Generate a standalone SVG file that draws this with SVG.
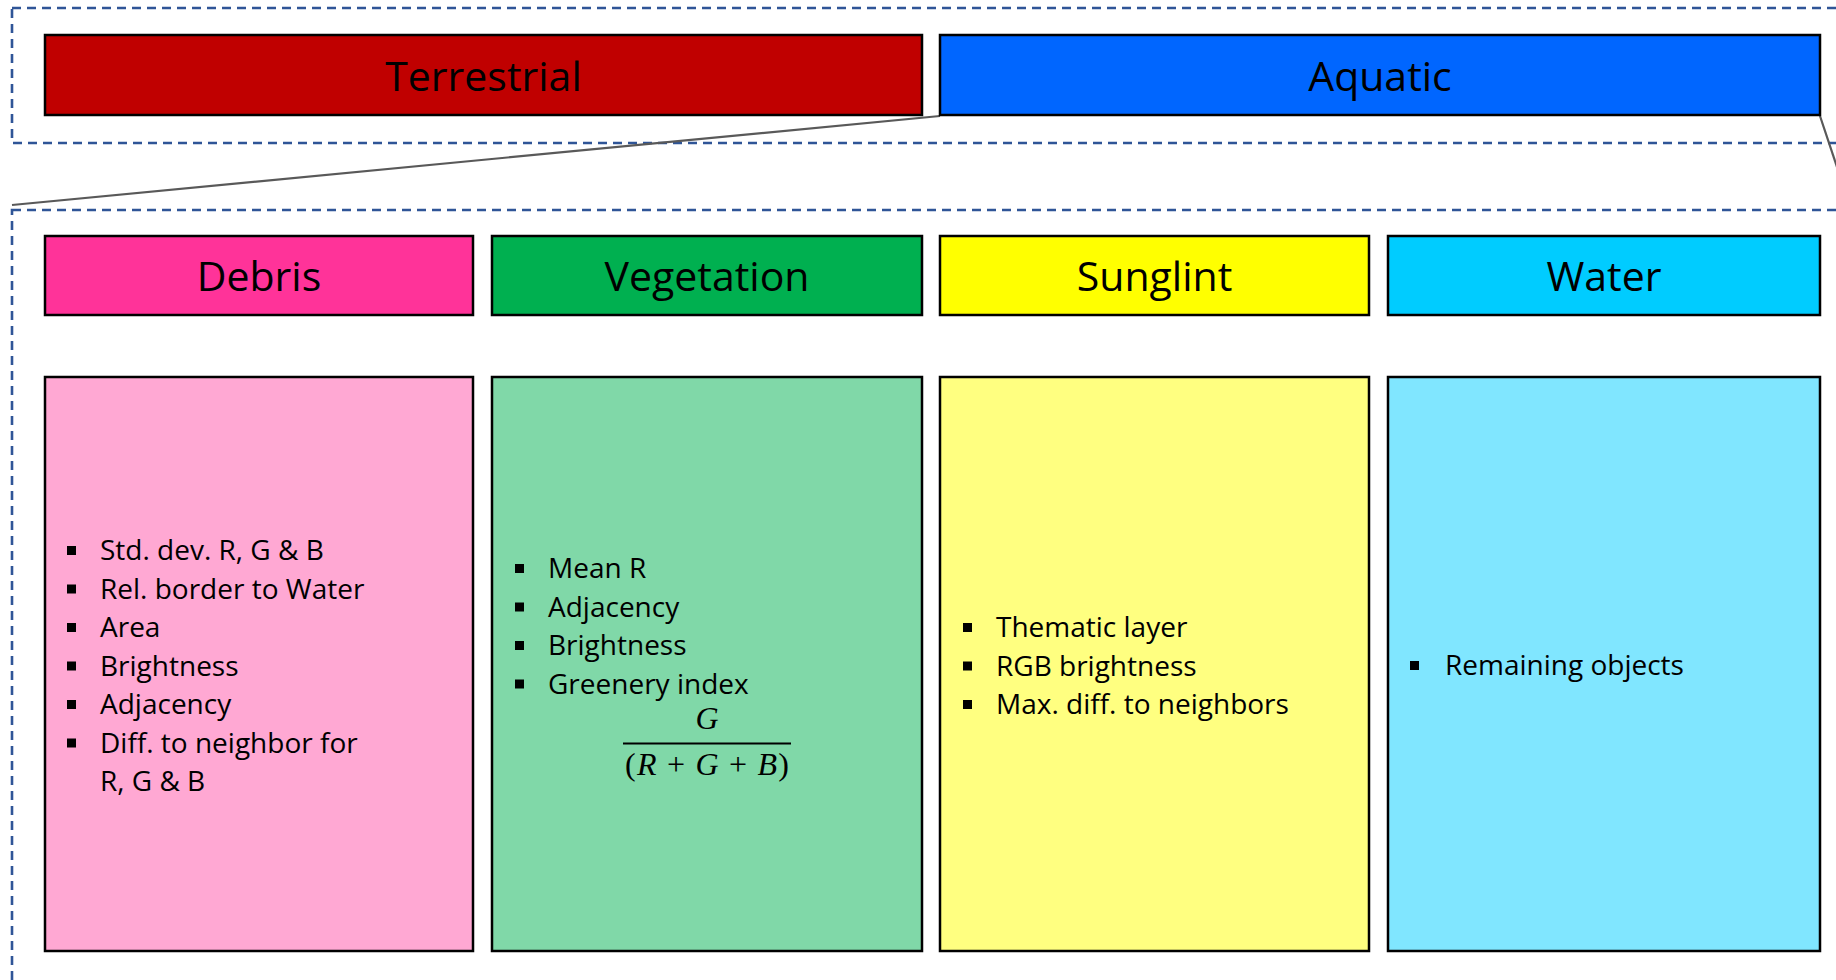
<svg xmlns="http://www.w3.org/2000/svg" width="1836" height="980" viewBox="0 0 1836 980">
<style>
.dash{fill:none;stroke:#2F5597;stroke-width:2.6;stroke-dasharray:9 6}
.box{stroke:#000;stroke-width:2.5}
.hdr{font-family:"Open Sans","Liberation Sans",sans-serif;font-size:41px;fill:#000;text-anchor:middle}
.item{font-family:"Open Sans","Liberation Sans",sans-serif;font-size:28px;fill:#000}
.bul{fill:#000}
.math{font-family:"Liberation Serif",serif;font-size:32px;fill:#000;font-style:italic}
.conn{stroke:#595959;stroke-width:2.2;fill:none}
</style>
<rect width="1836" height="980" fill="#fff"/>
<g id="frames">
<rect class="dash" x="12" y="8" width="1850" height="135"/>
<rect class="dash" x="12" y="210" width="1850" height="800"/>
</g>
<g id="connectors">
<line class="conn" x1="940" y1="116" x2="12" y2="205"/>
<line class="conn" x1="1820" y1="116" x2="1845" y2="191"/>
</g>
<g id="terrestrial">
<rect class="box" x="45" y="35" width="877" height="80" fill="#C00000"/>
<text class="hdr" x="483.5" y="91">Terrestrial</text>
</g>
<g id="aquatic">
<rect class="box" x="940" y="35" width="880" height="80" fill="#0066FF"/>
<text class="hdr" x="1380" y="91">Aquatic</text>
</g>
<g id="debris">
<rect class="box" x="45" y="236" width="428" height="79" fill="#FF3399"/>
<text class="hdr" x="259" y="291">Debris</text>
</g>
<g id="vegetation">
<rect class="box" x="492" y="236" width="430" height="79" fill="#00B050"/>
<text class="hdr" x="707" y="291">Vegetation</text>
</g>
<g id="sunglint">
<rect class="box" x="940" y="236" width="429" height="79" fill="#FFFF00"/>
<text class="hdr" x="1154.5" y="291">Sunglint</text>
</g>
<g id="water">
<rect class="box" x="1388" y="236" width="432" height="79" fill="#00CCFF"/>
<text class="hdr" x="1604" y="291">Water</text>
</g>
<g id="debris-features">
<rect class="box" x="45" y="377" width="428" height="574" fill="#FFA8D3"/>
<g class="bul">
<rect x="67" y="546" width="9" height="9"/>
<rect x="67" y="584.5" width="9" height="9"/>
<rect x="67" y="623" width="9" height="9"/>
<rect x="67" y="661.5" width="9" height="9"/>
<rect x="67" y="700" width="9" height="9"/>
<rect x="67" y="738.5" width="9" height="9"/>
</g>
<text class="item" x="100" y="560">Std. dev. R, G &amp; B</text>
<text class="item" x="100" y="598.5">Rel. border to Water</text>
<text class="item" x="100" y="637">Area</text>
<text class="item" x="100" y="675.5">Brightness</text>
<text class="item" x="100" y="714">Adjacency</text>
<text class="item" x="100" y="752.5">Diff. to neighbor for</text>
<text class="item" x="100" y="791">R, G &amp; B</text>
</g>
<g id="vegetation-features">
<rect class="box" x="492" y="377" width="430" height="574" fill="#80D8A8"/>
<g class="bul">
<rect x="515" y="564" width="9" height="9"/>
<rect x="515" y="602.5" width="9" height="9"/>
<rect x="515" y="641" width="9" height="9"/>
<rect x="515" y="679.5" width="9" height="9"/>
</g>
<text class="item" x="548" y="578">Mean R</text>
<text class="item" x="548" y="616.5">Adjacency</text>
<text class="item" x="548" y="655">Brightness</text>
<text class="item" x="548" y="693.5">Greenery index</text>
<text class="math" x="707" y="729" text-anchor="middle">G</text>
<line x1="623" y1="743.5" x2="791" y2="743.5" stroke="#000" stroke-width="2"/>
<text class="math" x="625" y="775" textLength="164" lengthAdjust="spacing"><tspan font-style="normal">(</tspan>R <tspan font-style="normal">+</tspan> G <tspan font-style="normal">+</tspan> B<tspan font-style="normal">)</tspan></text>
</g>
<g id="sunglint-features">
<rect class="box" x="940" y="377" width="429" height="574" fill="#FFFF80"/>
<g class="bul">
<rect x="963" y="623" width="9" height="9"/>
<rect x="963" y="661.5" width="9" height="9"/>
<rect x="963" y="700" width="9" height="9"/>
</g>
<text class="item" x="996" y="637">Thematic layer</text>
<text class="item" x="996" y="675.5">RGB brightness</text>
<text class="item" x="996" y="714">Max. diff. to neighbors</text>
</g>
<g id="water-features">
<rect class="box" x="1388" y="377" width="432" height="574" fill="#80E6FF"/>
<rect class="bul" x="1410" y="661" width="9" height="9"/>
<text class="item" x="1445" y="675">Remaining objects</text>
</g>
</svg>
